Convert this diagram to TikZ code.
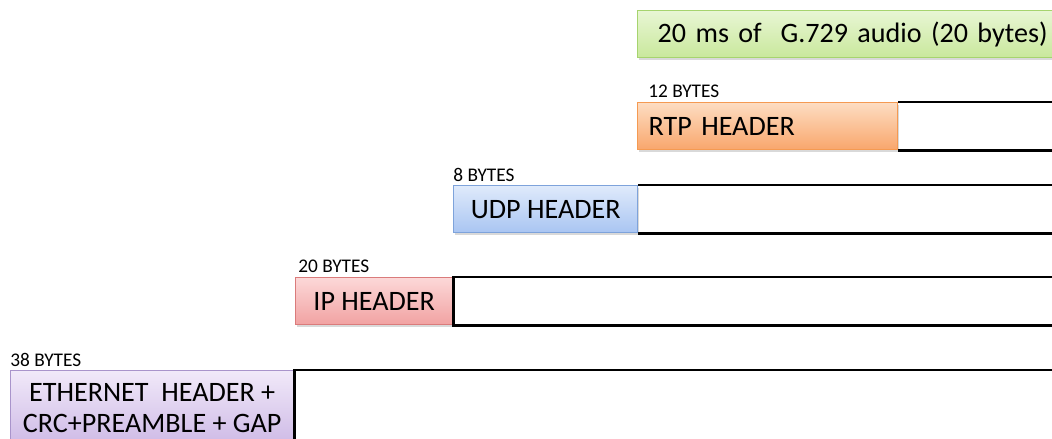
\documentclass[tikz,border=0pt]{standalone}
\usepackage{fontspec}
\setmainfont{Carlito}
\usetikzlibrary{positioning,shadows}

\definecolor{greentop}{HTML}{E8F6D4}
\definecolor{greenbot}{HTML}{C9E89C}
\definecolor{greenline}{HTML}{A6D46E}
\definecolor{orangetop}{HTML}{FDDDC2}
\definecolor{orangebot}{HTML}{F9A66C}
\definecolor{orangeline}{HTML}{F59A52}
\definecolor{bluetop}{HTML}{DFEAFB}
\definecolor{bluebot}{HTML}{A9C5F2}
\definecolor{blueline}{HTML}{7EA3DB}
\definecolor{redtop}{HTML}{FCD8D8}
\definecolor{redbot}{HTML}{F1A2A2}
\definecolor{redline}{HTML}{DA7B7B}
\definecolor{purpletop}{HTML}{F1E9F9}
\definecolor{purplebot}{HTML}{CEBAE6}
\definecolor{purpleline}{HTML}{A994CB}

\tikzset{
  hdr/.style={draw, line width=0.8pt, anchor=north west, minimum height=0.94cm,
    inner ysep=0pt, font=\fontsize{16}{17.6}\selectfont,
    drop shadow={shadow xshift=0.6pt, shadow yshift=-1.3pt, opacity=0.3}},
  bytes/.style={anchor=base west, inner sep=0pt, font=\fontsize{11}{13}\selectfont},
  frame/.style={line width=1.4pt}
}

\begin{document}
\begin{tikzpicture}[x=0.02cm,y=0.02cm]
\useasboundingbox (0,0) rectangle (1052,439);
\clip (0,0) rectangle (1052,439);
\coordinate (edge) at (1070,0);

\node[hdr, draw=greenline, top color=greentop, bottom color=greenbot, minimum width=8.7cm,
  text width=7.9cm, inner xsep=0.4cm, align=left] (audio) at (637,429) {20 ms of~ G.729 audio (20 bytes)};

\node[hdr, draw=orangeline, top color=orangetop, bottom color=orangebot, minimum width=5.2cm,
  text width=4.76cm, inner xsep=0.22cm, align=left] (rtp) at (637,337) {RTP HEADER};
\node[bytes] (rtpsize) at ([shift={(11,4)}]rtp.north west) {12 BYTES};
\draw[frame] (rtp.north east) -- (rtp.north east -| edge);
\draw[frame] (rtp.south east) -- (rtp.south east -| edge);

\node[hdr, draw=blueline, top color=bluetop, bottom color=bluebot, minimum width=3.68cm] (udp) at (453,254) {UDP HEADER};
\node[bytes] (udpsize) at ([shift={(0,3)}]udp.north west) {8 BYTES};
\draw[frame] (udp.north east) -- (udp.north east -| edge);
\draw[frame] (udp.south east) -- (udp.south east -| edge);

\node[hdr, draw=redline, top color=redtop, bottom color=redbot, minimum width=3.14cm] (ip) at (295,162) {IP HEADER};
\node[bytes] (ipsize) at ([shift={(3,4)}]ip.north west) {20 BYTES};
\draw[frame] (ip.north east) rectangle (ip.south east -| edge);

\node[hdr, draw=purpleline, top color=purpletop, bottom color=purplebot, minimum width=5.66cm,
  minimum height=1.48cm, align=center] (eth) at (10,69) {ETHERNET~ HEADER +\\CRC+PREAMBLE + GAP};
\node[bytes] (ethsize) at ([shift={(0,3)}]eth.north west) {38 BYTES};
\draw[frame] (eth.north east) rectangle (eth.south east -| edge);
\end{tikzpicture}
\end{document}
